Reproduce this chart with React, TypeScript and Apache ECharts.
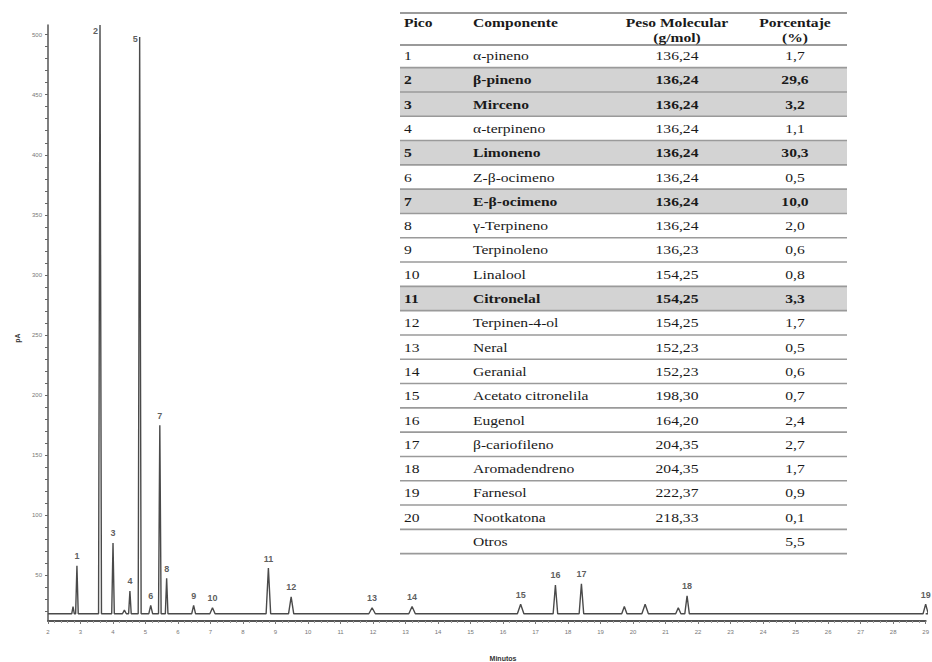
import React, { useEffect, useRef } from "react";
import * as echarts from "echarts";

// ---- Chromatogram data (retention time in min, signal in pA) ----
const baselineLevel = 18;
const peakTimes = [2.77, 2.89, 3.6, 4.0, 4.35, 4.52, 4.82, 5.16, 5.44, 5.65, 6.48, 7.06, 8.78, 9.48, 11.97, 13.2, 16.54, 17.61, 18.41, 19.73, 20.37, 21.39, 21.66, 29.0];
const peakHeights = [24, 58, 508, 77, 21, 37, 498, 25, 175, 47.5, 25, 23, 56, 32, 23, 24, 26, 42, 43, 24, 26, 23, 33, 26];
const peakHalfWidths = [0.04, 0.04, 0.045, 0.04, 0.06, 0.04, 0.045, 0.06, 0.04, 0.04, 0.06, 0.08, 0.07, 0.08, 0.1, 0.1, 0.1, 0.07, 0.07, 0.08, 0.1, 0.08, 0.07, 0.08];
const peakLabels = ["", "1", "2", "3", "", "4", "5", "6", "7", "8", "9", "10", "11", "12", "13", "14", "15", "16", "17", "", "", "", "18", "19"];

// ---- Axis ticks ----
const xMin = 2;
const xMax = 29;
const yMin = 12;
const yMax = 508;
const yLabelValues = [50, 100, 150, 200, 250, 300, 350, 400, 450, 500];

// ---- Table data ----
const tablaPicos = ["1", "2", "3", "4", "5", "6", "7", "8", "9", "10", "11", "12", "13", "14", "15", "16", "17", "18", "19", "20", ""];
const tablaComponentes = ["α-pineno", "β-pineno", "Mirceno", "α-terpineno", "Limoneno", "Z-β-ocimeno", "E-β-ocimeno", "γ-Terpineno", "Terpinoleno", "Linalool", "Citronelal", "Terpinen-4-ol", "Neral", "Geranial", "Acetato citronelila", "Eugenol", "β-cariofileno", "Aromadendreno", "Farnesol", "Nootkatona", "Otros"];
const tablaPesos = ["136,24", "136,24", "136,24", "136,24", "136,24", "136,24", "136,24", "136,24", "136,23", "154,25", "154,25", "154,25", "152,23", "152,23", "198,30", "164,20", "204,35", "204,35", "222,37", "218,33", ""];
const tablaPorcentajes = ["1,7", "29,6", "3,2", "1,1", "30,3", "0,5", "10,0", "2,0", "0,6", "0,8", "3,3", "1,7", "0,5", "0,6", "0,7", "2,4", "2,7", "1,7", "0,9", "0,1", "5,5"];
const tablaDestacados = ["2", "3", "5", "7", "11"];

function buildTable() {
  const els: any[] = [];
  const left = 400;
  const right = 847;
  const firstRowCenter = 55.5;
  const rowH = 24.3;
  const colPico = 404;
  const colComp = 473;
  const colPeso = 677;
  const colPorc = 795;
  const font = "Liberation Serif, Times New Roman, serif";
  const sx = 1.2;
  const lineColor = "#9a9a9a";

  // shaded rows first
  tablaPicos.forEach((p, i) => {
    if (tablaDestacados.indexOf(p) >= 0) {
      const c = firstRowCenter + i * rowH;
      els.push({
        type: "rect",
        shape: { x: left, y: c - rowH / 2, width: right - left, height: rowH },
        style: { fill: "#d3d3d3" },
        silent: true,
      });
    }
  });

  const hline = (y: number, w = 1.6) =>
    els.push({
      type: "line",
      shape: { x1: left, y1: y, x2: right, y2: y },
      style: { stroke: lineColor, lineWidth: w },
      silent: true,
    });

  hline(13, 1.8);
  hline(45, 1.8);
  for (let i = 0; i < tablaPicos.length; i++) {
    hline(firstRowCenter + i * rowH + rowH / 2, 1.6);
  }

  const txt = (s: string, x: number, y: number, bold: boolean, align: string) =>
    els.push({
      type: "text",
      x,
      y,
      scaleX: sx,
      silent: true,
      style: {
        text: s,
        x: 0,
        y: 0,
        fill: "#1a1a1a",
        font: `${bold ? "bold " : ""}13px ${font}`,
        align,
        verticalAlign: "middle",
      },
    });

  // header
  txt("Pico", colPico, 22, true, "left");
  txt("Componente", colComp, 22, true, "left");
  txt("Peso Molecular", colPeso, 22, true, "center");
  txt("(g/mol)", colPeso, 37, true, "center");
  txt("Porcentaje", colPorc, 22, true, "center");
  txt("(%)", colPorc, 37, true, "center");

  tablaPicos.forEach((p, i) => {
    const c = firstRowCenter + i * rowH;
    const b = tablaDestacados.indexOf(p) >= 0;
    if (p) txt(p, colPico, c, b, "left");
    txt(tablaComponentes[i], colComp, c, b, "left");
    if (tablaPesos[i]) txt(tablaPesos[i], colPeso, c, b, "center");
    txt(tablaPorcentajes[i], colPorc, c, b, "center");
  });
  return els;
}

export default function App() {
  const ref = useRef<HTMLDivElement>(null);
  useEffect(() => {
    if (!ref.current) return;
    const chart = echarts.init(ref.current, undefined, { renderer: "svg" });

    // chromatogram trace
    const order = peakTimes.map((_, i) => i).sort((a, b) => peakTimes[a] - peakTimes[b]);
    const trace: number[][] = [[xMin, baselineLevel]];
    order.forEach((i) => {
      const t = peakTimes[i];
      const w = peakHalfWidths[i];
      trace.push([t - w, baselineLevel]);
      trace.push([t, peakHeights[i]]);
      trace.push([t + w, baselineLevel]);
    });
    trace.push([xMax, baselineLevel]);

    const labelData = peakTimes
      .map((t, i) => ({ t, h: peakHeights[i], l: peakLabels[i] }))
      .filter((d) => d.l !== "")
      .map((d) => {
        const item: any = { value: [d.t, Math.min(d.h, yMax)], name: d.l };
        if (d.l === "2") {
          item.label = { position: "left", distance: 2, offset: [0, 6] };
        } else if (d.l === "5") {
          item.label = { position: "left", distance: 2, offset: [0, 2] };
        }
        return item;
      });

    const yTicks: number[] = [];
    for (let v = 20; v <= 500; v += 10) yTicks.push(v);

    chart.setOption({
      animation: false,
      backgroundColor: "#ffffff",
      grid: { left: 48, right: 4, top: 25, bottom: 41, containLabel: false },
      xAxis: {
        type: "value",
        min: xMin,
        max: xMax,
        interval: 1,
        axisLine: { show: true, lineStyle: { color: "#555", width: 2 } },
        axisTick: { show: true, length: 3, lineStyle: { color: "#777" } },
        minorTick: { show: true, splitNumber: 5, length: 2, lineStyle: { color: "#999" } },
        axisLabel: { fontSize: 6, color: "#777", margin: 8, fontFamily: "Liberation Sans, Arial, sans-serif" },
        splitLine: { show: false },
      },
      yAxis: {
        type: "value",
        min: yMin,
        max: yMax,
        axisLine: { show: true, lineStyle: { color: "#555", width: 1.5 } },
        axisTick: { show: true, length: 3, customValues: yTicks, lineStyle: { color: "#666" } },
        axisLabel: { fontSize: 6, color: "#777", margin: 6, customValues: yLabelValues, fontFamily: "Liberation Sans, Arial, sans-serif" },
        splitLine: { show: false },
      },
      series: [
        {
          type: "line",
          data: trace,
          showSymbol: false,
          symbol: "none",
          lineStyle: { color: "#4a4a4a", width: 1.4 },
          clip: true,
          z: 2,
        },
        {
          type: "scatter",
          data: labelData,
          symbolSize: 0,
          silent: true,
          z: 3,
          label: {
            show: true,
            position: "top",
            distance: 5,
            formatter: (p: any) => p.name,
            fontSize: 9,
            fontWeight: "bold",
            color: "#333",
            fontFamily: "Liberation Sans, Arial, sans-serif",
          },
        },
      ],
      graphic: [
        {
          type: "text",
          x: 17,
          y: 338,
          rotation: Math.PI / 2,
          style: { text: "pA", font: "bold 7px Liberation Sans, Arial, sans-serif", fill: "#333", align: "center", verticalAlign: "middle" },
        },
        {
          type: "text",
          x: 503,
          y: 658,
          style: { text: "Minutos", font: "bold 7px Liberation Sans, Arial, sans-serif", fill: "#333", align: "center", verticalAlign: "middle" },
        },
        ...buildTable(),
      ],
    });
    return () => chart.dispose();
  }, []);
  return <div ref={ref} style={{ position: "fixed", left: 0, top: 0, width: 932, height: 662, background: "#fff" }} />;
}
